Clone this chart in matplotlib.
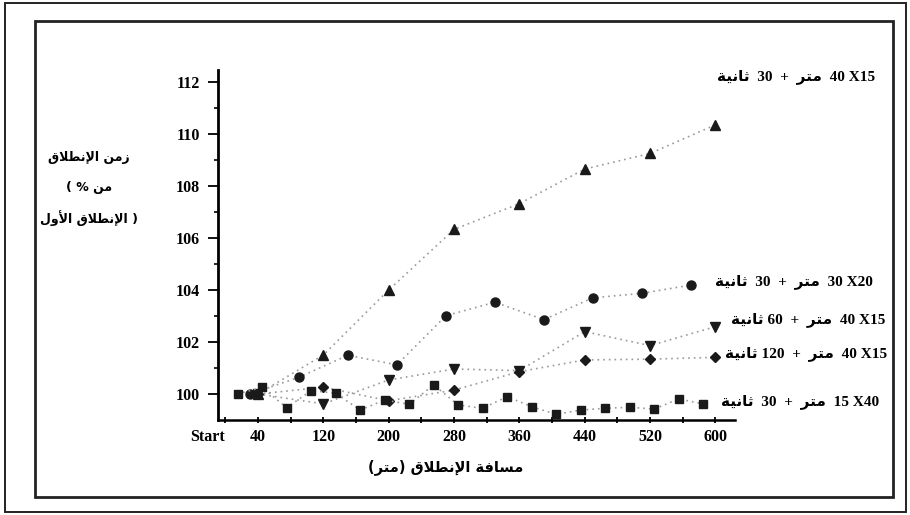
import matplotlib
matplotlib.use("Agg")
import matplotlib.pyplot as plt
from matplotlib.patches import Rectangle

# ---- data -------------------------------------------------------------
# 15 m reps (plotted every other rep)
dist_15 = [15, 45, 75, 105, 135, 165, 195, 225, 255, 285,
           315, 345, 375, 405, 435, 465, 495, 525, 555, 585]
time_15x40_30s = [100.0, 100.26, 99.47, 100.13, 100.03, 99.38, 99.77, 99.6, 100.35, 99.58,
                  99.45, 99.9, 99.51, 99.22, 99.38, 99.45, 99.49, 99.42, 99.81, 99.62]

# 30 m reps (plotted every other rep)
dist_30 = [30, 90, 150, 210, 270, 330, 390, 450, 510, 570]
time_30x20_30s = [100.0, 100.64, 101.49, 101.12, 103.01, 103.53, 102.86, 103.7, 103.87, 104.19]

# 40 m reps (plotted every other rep)
dist_40 = [40, 120, 200, 280, 360, 440, 520, 600]
time_40x15_30s = [100.0, 101.5, 104.0, 106.33, 107.32, 108.65, 109.25, 110.35]
time_40x15_60s = [100.0, 99.62, 100.54, 100.96, 100.9, 102.4, 101.86, 102.59]
time_40x15_120s = [100.0, 100.26, 99.74, 100.15, 100.86, 101.31, 101.34, 101.41]

x_ticks = [0, 40, 80, 120, 160, 200, 240, 280, 320, 360, 400, 440, 480, 520, 560, 600]
x_tick_labels = ["Start", "40", "", "120", "", "200", "", "280", "", "360", "", "440", "", "520", "", "600"]
y_ticks = [100, 102, 104, 106, 108, 110, 112]

# ---- minimal arabic shaping (presentation forms, visual order) --------
FORMS = {
    'ا': (0xFE8D, 0xFE8E, None, None),
    'أ': (0xFE83, 0xFE84, None, None),
    'إ': (0xFE87, 0xFE88, None, None),
    'ة': (0xFE93, 0xFE94, None, None),
    'ت': (0xFE95, 0xFE96, 0xFE97, 0xFE98),
    'ث': (0xFE99, 0xFE9A, 0xFE9B, 0xFE9C),
    'ر': (0xFEAD, 0xFEAE, None, None),
    'ز': (0xFEAF, 0xFEB0, None, None),
    'س': (0xFEB1, 0xFEB2, 0xFEB3, 0xFEB4),
    'ط': (0xFEC1, 0xFEC2, 0xFEC3, 0xFEC4),
    'ف': (0xFED1, 0xFED2, 0xFED3, 0xFED4),
    'ق': (0xFED5, 0xFED6, 0xFED7, 0xFED8),
    'ل': (0xFEDD, 0xFEDE, 0xFEDF, 0xFEE0),
    'م': (0xFEE1, 0xFEE2, 0xFEE3, 0xFEE4),
    'ن': (0xFEE5, 0xFEE6, 0xFEE7, 0xFEE8),
    'و': (0xFEED, 0xFEEE, None, None),
    'ي': (0xFEF1, 0xFEF2, 0xFEF3, 0xFEF4),
}
LAM_ALEF = {'ا': (0xFEFB, 0xFEFC), 'أ': (0xFEF7, 0xFEF8), 'إ': (0xFEF9, 0xFEFA)}


def ar(word):
    units = []
    i = 0
    while i < len(word):
        c = word[i]
        if c == 'ل' and i + 1 < len(word) and word[i + 1] in LAM_ALEF:
            units.append(('LA', word[i + 1]))
            i += 2
        else:
            units.append((c, None))
            i += 1
    out = []
    for k, (c, a) in enumerate(units):
        prev = units[k - 1][0] if k > 0 else None
        nxt = units[k + 1][0] if k + 1 < len(units) else None
        joins_prev = prev in FORMS and FORMS[prev][2] is not None
        if c == 'LA':
            out.append(chr(LAM_ALEF[a][1] if joins_prev else LAM_ALEF[a][0]))
            continue
        if c not in FORMS:
            out.append(c)
            continue
        iso, fin, ini, med = FORMS[c]
        joins_next = ini is not None and (nxt in FORMS or nxt == 'LA')
        if joins_prev and joins_next:
            out.append(chr(med))
        elif joins_prev:
            out.append(chr(fin))
        elif joins_next:
            out.append(chr(ini))
        else:
            out.append(chr(iso))
    return ''.join(reversed(out))


SERIF = ['Liberation Serif', 'DejaVu Sans']
SANS = ['DejaVu Sans']

# ---- figure -----------------------------------------------------------
W, H = 910, 515
fig = plt.figure(figsize=(W / 100, H / 100), dpi=100)
fig.patch.set_facecolor('white')


def fx(px):
    return px / W


def fy(py):
    return 1 - py / H


# double frame around the chart
fig.patches.append(Rectangle((fx(5), fy(512)), fx(906) - fx(5), fy(3) - fy(512),
                             transform=fig.transFigure, fill=False, lw=1.4, ec='#222222'))
fig.patches.append(Rectangle((fx(35), fy(497)), fx(893) - fx(35), fy(21) - fy(497),
                             transform=fig.transFigure, fill=False, lw=2.0, ec='#222222'))

ax = fig.add_axes([fx(218), fy(420), fx(735) - fx(218), fy(70) - fy(420)])
ax.set_xlim(-9, 624)
ax.set_ylim(99.0, 112.46)

line_kw = dict(color='#9a9a9a', lw=1.2, ls=(0, (1, 2.4)), mfc='#1a1a1a', mec='#1a1a1a')
ax.plot(dist_40, time_40x15_30s, marker='^', ms=7.5, **line_kw)
ax.plot(dist_30, time_30x20_30s, marker='o', ms=6.5, **line_kw)
ax.plot(dist_40, time_40x15_60s, marker='v', ms=7.5, **line_kw)
ax.plot(dist_40, time_40x15_120s, marker='D', ms=5.2, **line_kw)
ax.plot(dist_15, time_15x40_30s, marker='s', ms=5.5, **line_kw)

for side in ['top', 'right']:
    ax.spines[side].set_visible(False)
ax.spines['left'].set_linewidth(2.0)
ax.spines['bottom'].set_linewidth(1.8)

ax.set_yticks(y_ticks)
ax.set_yticks(range(100, 113), minor=True)
ax.set_yticklabels([str(v) for v in y_ticks], family=SERIF, fontweight='bold', fontsize=11.5)
ax.tick_params(axis='y', which='major', direction='out', length=7, width=1.3, pad=6)
ax.tick_params(axis='y', which='minor', direction='out', length=3, width=1.2)

ax.set_xticks(x_ticks)
ax.set_xticklabels(x_tick_labels, family=SERIF, fontweight='bold', fontsize=11.5)
ax.tick_params(axis='x', direction='inout', length=5, width=1.3, pad=4)
ax.get_xticklabels()[0].set_horizontalalignment('right')
ax.get_xticklabels()[0].set_x(12)

# y axis title, three lines
ytitle_kw = dict(ha='center', va='center', family=SANS, fontweight='bold', fontsize=9.0)
fig.text(fx(89), fy(157), ar("الإنطلاق") + " " + ar("زمن"), **ytitle_kw)
fig.text(fx(89), fy(187), "( % " + ar("من"), **ytitle_kw)
fig.text(fx(89), fy(218), ar("الأول") + " " + ar("الإنطلاق") + " )", **ytitle_kw)

# x axis title
fig.text(fx(446), fy(467), "(" + ar("متر") + ") " + ar("الإنطلاق") + " " + ar("مسافة"),
         ha='center', va='center', family=SANS, fontweight='bold', fontsize=10.5)

# series labels
sec = ar("ثانية")
met = ar("متر")
series_labels = [
    (796, 77, sec + "  30  +  " + met + "  40 X15"),
    (794, 282, sec + "  30  +  " + met + "  30 X20"),
    (808, 320, sec + " 60  +  " + met + "  40 X15"),
    (806, 354, sec + " 120  +  " + met + "  40 X15"),
    (800, 402, sec + "  30  +  " + met + "  15 X40"),
]
for px, py, txt in series_labels:
    fig.text(fx(px), fy(py), txt, ha='center', va='center',
             family=SERIF, fontweight='bold', fontsize=11)

fig.savefig('out.png', dpi=100)
